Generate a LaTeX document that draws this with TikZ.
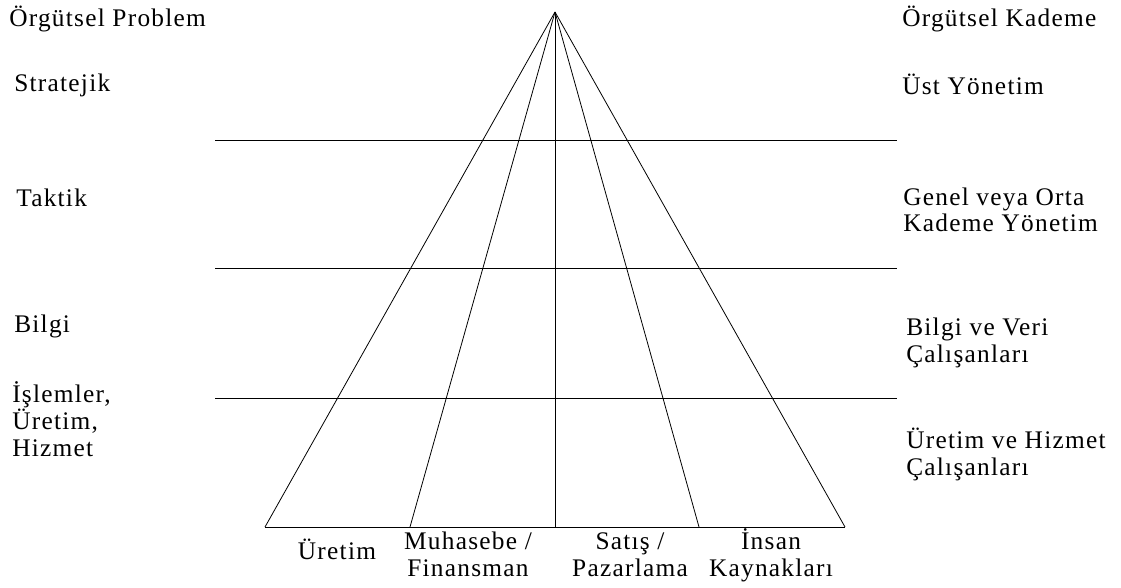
\documentclass[tikz,border=0pt]{standalone}
\usepackage{fontspec}
\setmainfont[LetterSpace=5]{Liberation Serif}
\usepackage{tikz}
\usetikzlibrary{positioning}

\begin{document}
\begin{tikzpicture}[
    x=0.75pt, y=-0.75pt,
    every node/.style={font=\fontsize{19pt}{20.25pt}\selectfont, inner sep=0pt},
    lbl/.style={anchor=base west, align=left},
    foot/.style={anchor=base, align=center},
    edge/.style={line width=0.6pt}
]
\useasboundingbox (0,0) rectangle (1121,588);

%% -- Pyramid corners --------------------------------
\coordinate (apex) at (555,12);
\coordinate (f1) at (265,527);
\coordinate (f2) at (410,527);
\coordinate (f3) at (555,527);
\coordinate (f4) at (699,527);
\coordinate (f5) at (845,527);

%% -- Level lines ------------------------------------
\coordinate (l1) at (215,140);  \coordinate (r1) at (897,140);
\coordinate (l2) at (215,268);  \coordinate (r2) at (897,268);
\coordinate (l3) at (215,398);  \coordinate (r3) at (897,398);

\foreach \f in {f1,f2,f3,f4,f5}
    \draw[edge] (apex) -- (\f);
\draw[edge] (f1) -- (f5);
\foreach \i in {1,2,3}
    \draw[edge] (l\i) -- (r\i);

%% -- Left labels (base = last line) -----------------
\node[lbl] (prob) at (9,27) {Örgütsel Problem};
\node[lbl] (strat) at (14,92) {Stratejik};
\node[lbl] (takt) at (16,207) {Taktik};
\node[lbl] (bilgi) at (14,332) {Bilgi};
\node[lbl] (isl) at (12,456) {İşlemler,\\Üretim,\\Hizmet};

%% -- Right labels -----------------------------------
\node[lbl] (kad) at (902,27) {Örgütsel Kademe};
\node[lbl] (ust) at (902,95) {Üst Yönetim};
\node[lbl] (orta) at (903,232) {Genel veya Orta\\Kademe Yönetim};
\node[lbl] (veri) at (906,362) {Bilgi ve Veri\\Çalışanları};
\node[lbl] (hiz) at (906,475) {Üretim ve Hizmet\\Çalışanları};

%% -- Bottom labels ----------------------------------
\node[foot] (uret) at (337,559) {Üretim};
\node[foot] (muh) at (468,576) {Muhasebe /\\Finansman};
\node[foot] (sat) at (630,576) {Satış /\\Pazarlama};
\node[foot] (ins) at (771,576) {İnsan\\Kaynakları};

\end{tikzpicture}
\end{document}
